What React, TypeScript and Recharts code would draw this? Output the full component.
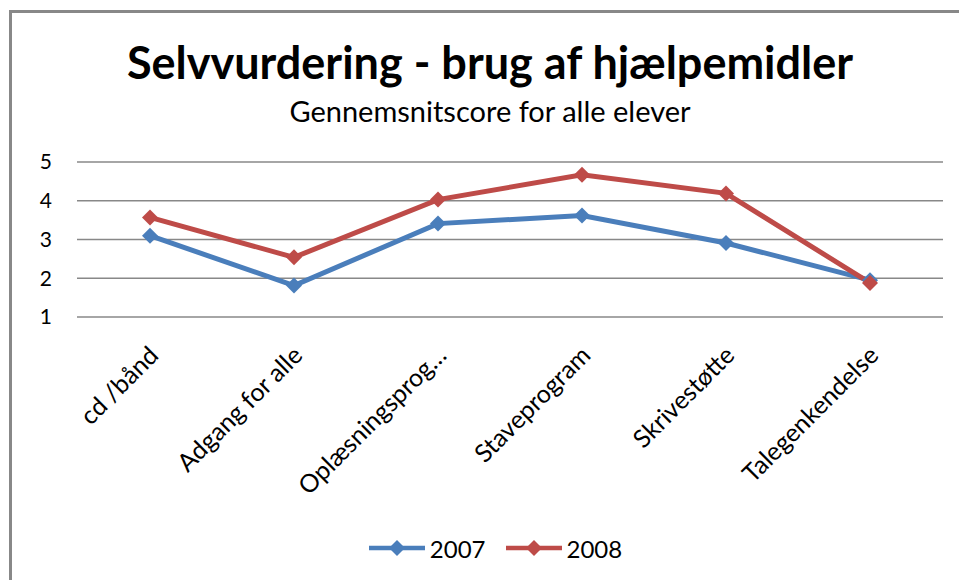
import React from 'react';
import { LineChart, Line, XAxis, YAxis, CartesianGrid, Legend } from 'recharts';

const categories = ['cd /bånd', 'Adgang for alle', 'Oplæsningsprog…', 'Staveprogram', 'Skrivestøtte', 'Talegenkendelse'];
const scores2007 = [3.1, 1.81, 3.41, 3.62, 2.91, 1.95];
const scores2008 = [3.57, 2.54, 4.03, 4.67, 4.19, 1.88];
const yTicks = [1, 2, 3, 4, 5];

const seriesNames = ['2007', '2008'];
const seriesColors = ['#4A7EBB', '#BE4B48'];

const FONT = 'Lato, "Open Sans", sans-serif';

const data = categories.map((name, i) => ({
  name,
  y2007: scores2007[i],
  y2008: scores2008[i],
}));

const Diamond = (color: string) => (props: any) => {
  const { cx, cy } = props;
  if (cx == null || cy == null) return null;
  const r = 8;
  return (
    <polygon
      points={`${cx},${cy - r} ${cx + r},${cy} ${cx},${cy + r} ${cx - r},${cy}`}
      fill={color}
      stroke="none"
    />
  );
};

const XTick = (props: any) => {
  const { x, y, payload } = props;
  const tx = x + 10;
  const ty = y + 32;
  return (
    <text
      x={tx}
      y={ty}
      transform={`rotate(-45, ${tx}, ${ty})`}
      textAnchor="end"
      fontFamily={FONT}
      fontSize={25}
      fill="#000"
    >
      {payload.value}
    </text>
  );
};

const LegendContent = () => (
  <div style={{ display: 'flex', justifyContent: 'center', alignItems: 'center', height: 40, gap: 20, paddingLeft: 48 }}>
    {seriesNames.map((name, i) => (
      <div key={name} style={{ display: 'flex', alignItems: 'center', gap: 5 }}>
        <svg width={56} height={16}>
          <line x1={0} y1={8} x2={56} y2={8} stroke={seriesColors[i]} strokeWidth={4.5} />
          <polygon points="28,0 36,8 28,16 20,8" fill={seriesColors[i]} />
        </svg>
        <span style={{ fontFamily: FONT, fontSize: 24, color: '#000' }}>{name}</span>
      </div>
    ))}
  </div>
);

export default function App() {
  return (
    <div style={{ position: 'fixed', left: 0, top: 0, width: 959, height: 580, overflow: 'hidden', background: '#fff' }}>
      <div
        style={{
          position: 'absolute',
          left: 9,
          top: 10,
          width: 1000,
          height: 700,
          border: '3px solid #888',
        }}
      />
      <div
        style={{
          position: 'absolute',
          left: 0,
          width: 980,
          top: 36,
          textAlign: 'center',
          fontFamily: FONT,
          fontWeight: 'bold',
          fontSize: 45,
          lineHeight: '52px',
          color: '#000',
        }}
      >
        Selvvurdering - brug af hjælpemidler
      </div>
      <div
        style={{
          position: 'absolute',
          left: 0,
          width: 980,
          top: 94,
          textAlign: 'center',
          fontFamily: FONT,
          fontSize: 29,
          lineHeight: '34px',
          color: '#000',
        }}
      >
        Gennemsnitscore for alle elever
      </div>
      <div style={{ position: 'absolute', left: 0, top: 0 }}>
        <LineChart width={959} height={580} data={data} margin={{ top: 162, right: 16, bottom: 12, left: 0 }}>
          <CartesianGrid horizontal vertical={false} stroke="#888" strokeWidth={1.5} />
          <XAxis
            dataKey="name"
            axisLine={false}
            tickLine={false}
            interval={0}
            height={211}
            padding={{ left: 73, right: 73 }}
            tick={<XTick />}
          />
          <YAxis
            domain={[1, 5]}
            ticks={yTicks}
            axisLine={false}
            tickLine={false}
            width={77}
            tickMargin={19}
            tick={{ fontFamily: FONT, fontSize: 21, fill: '#000' }}
          />
          <Legend verticalAlign="bottom" content={<LegendContent />} />
          <Line
            dataKey="y2007"
            name={seriesNames[0]}
            stroke={seriesColors[0]}
            strokeWidth={5}
            dot={Diamond(seriesColors[0])}
            activeDot={false}
            isAnimationActive={false}
          />
          <Line
            dataKey="y2008"
            name={seriesNames[1]}
            stroke={seriesColors[1]}
            strokeWidth={5}
            dot={Diamond(seriesColors[1])}
            activeDot={false}
            isAnimationActive={false}
          />
        </LineChart>
      </div>
    </div>
  );
}
